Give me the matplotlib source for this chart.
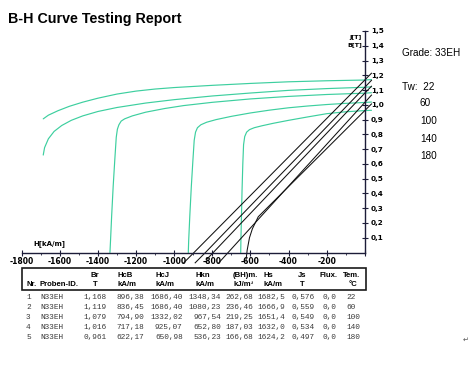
#B-H curve testing report, 33EH grade, five temperatures

import matplotlib
matplotlib.use('Agg')
import matplotlib.pyplot as plt
from matplotlib.patches import Rectangle
from matplotlib.ticker import FixedLocator, FuncFormatter

W, H_PX = 472, 374

temps = [22, 60, 100, 140, 180]

#J curves (intrinsic), H in kA/m, J in T
j_h = [
	[35, 0, -200, -400, -600, -800, -1000, -1100, -1200, -1300, -1400, -1480, -1550, -1610, -1660, -1687],
	[35, 0, -200, -400, -600, -800, -1000, -1150, -1300, -1400, -1480, -1540, -1590, -1630, -1660, -1680, -1687],
	[35, 0, -200, -400, -600, -800, -950, -1050, -1150, -1220, -1260, -1278, -1290, -1298, -1304, -1312, -1320, -1328, -1334, -1337],
	[35, 0, -100, -200, -300, -400, -500, -600, -700, -780, -830, -860, -878, -888, -895, -902, -910, -918, -924, -926],
	[35, 0, -100, -200, -300, -400, -480, -540, -580, -605, -620, -630, -636, -640, -644, -647, -650, -651],
]
j_val = [
	[1.171, 1.168, 1.163, 1.156, 1.145, 1.132, 1.117, 1.107, 1.093, 1.073, 1.045, 1.018, 0.99, 0.96, 0.93, 0.905],
	[1.122, 1.119, 1.110, 1.098, 1.080, 1.060, 1.035, 1.012, 0.982, 0.955, 0.925, 0.895, 0.86, 0.82, 0.77, 0.71, 0.66],
	[1.082, 1.079, 1.070, 1.057, 1.040, 1.017, 0.995, 0.975, 0.950, 0.925, 0.905, 0.89, 0.865, 0.835, 0.78, 0.62, 0.45, 0.25, 0.08, 0.0],
	[1.019, 1.016, 1.010, 1.002, 0.992, 0.980, 0.964, 0.945, 0.922, 0.90, 0.882, 0.865, 0.845, 0.815, 0.76, 0.62, 0.45, 0.25, 0.08, 0.0],
	[0.963, 0.961, 0.953, 0.940, 0.918, 0.895, 0.875, 0.858, 0.845, 0.832, 0.815, 0.785, 0.73, 0.60, 0.42, 0.25, 0.08, 0.0],
]

#B curves (normal)
b_h = [
	[35, 0, -300, -600, -896, -950],
	[35, 0, -300, -600, -836, -890],
	[35, 0, -300, -600, -795, -832],
	[35, 0, -300, -600, -717, -766],
	[35, 0, -300, -500, -559, -590, -605, -617, -623],
]
b_val = [
	[1.214, 1.168, 0.777, 0.386, 0.0, -0.07],
	[1.166, 1.119, 0.717, 0.316, 0.0, -0.07],
	[1.126, 1.079, 0.672, 0.265, 0.0, -0.05],
	[1.066, 1.016, 0.591, 0.166, 0.0, -0.07],
	[1.006, 0.961, 0.575, 0.318, 0.242, 0.16, 0.10, 0.017, -0.05],
]

#table values
nr = [1, 2, 3, 4, 5]
proben_id = ['N33EH'] * 5
br = [1.168, 1.119, 1.079, 1.016, 0.961]
hcb = [896.38, 836.45, 794.90, 717.18, 622.17]
hcj = [1686.40, 1686.40, 1332.02, 925.07, 650.98]
hkn = [1348.34, 1080.23, 967.54, 652.80, 536.23]
bhmax = [262.68, 236.46, 219.25, 187.03, 166.68]
hs = [1682.5, 1666.9, 1651.4, 1632.0, 1624.2]
js = [0.576, 0.559, 0.549, 0.534, 0.497]
flux = ['0,0'] * 5

x_ticks = [-1800, -1600, -1400, -1200, -1000, -800, -600, -400, -200]
y_ticks = [0.1, 0.2, 0.3, 0.4, 0.5, 0.6, 0.7, 0.8, 0.9, 1.0, 1.1, 1.2, 1.3, 1.4, 1.5]

J_COLOR = '#3dcf9f'
AX_COLOR = '#1c1c38'

def fx(px):
	return px / W

def fy(py):
	return 1 - py / H_PX

def comma(v, dec):
	return '{:.{}f}'.format(v, dec).replace('.', ',')

fig = plt.figure(figsize=(W / 100, H_PX / 100), dpi=100)
fig.patch.set_facecolor('white')

#axes placed so that H=-1800 -> px 21.7, H=0 -> px 364.8, B=0 -> py 252.5, B=1.5 -> py 31
px_per_h = (364.8 - 21.7) / 1800
px_per_t = (252.5 - 31) / 1.5
x_lo, x_hi = -1850, 90
y_lo, y_hi = -0.12, 1.6
left_px = 364.8 + x_lo * px_per_h
right_px = 364.8 + x_hi * px_per_h
top_px = 252.5 - y_hi * px_per_t
bot_px = 252.5 - y_lo * px_per_t
ax = fig.add_axes([fx(left_px), fy(bot_px), (right_px - left_px) / W, (bot_px - top_px) / H_PX])
ax.set_xlim(x_lo, x_hi)
ax.set_ylim(y_lo, y_hi)
ax.patch.set_alpha(0)

for i in range(len(temps)):
	ax.plot(j_h[i], j_val[i], color=J_COLOR, lw=0.85, solid_capstyle='round')
for i in range(len(temps)):
	ax.plot(b_h[i], b_val[i], color='#111111', lw=0.75)

#spines: x axis along B=0, y axis along H=0
ax.spines['top'].set_visible(False)
ax.spines['left'].set_visible(False)
ax.spines['bottom'].set_position(('data', 0))
ax.spines['right'].set_position(('data', 0))
ax.spines['bottom'].set_bounds(-1800, 0)
ax.spines['right'].set_bounds(0, 1.5)
for s in ['bottom', 'right']:
	ax.spines[s].set_color(AX_COLOR)
	ax.spines[s].set_linewidth(1.0)

ax.yaxis.tick_right()
ax.yaxis.set_major_locator(FixedLocator(y_ticks))
ax.yaxis.set_major_formatter(FuncFormatter(lambda v, p: comma(v, 1)))
ax.tick_params(axis='y', direction='inout', length=5, width=0.8, color=AX_COLOR,
	labelsize=5.2, pad=2)
ax.xaxis.set_major_locator(FixedLocator(x_ticks + [0]))
ax.xaxis.set_minor_locator(FixedLocator([-1700, -1500, -1300, -1100, -900, -700, -500, -300, -100]))
ax.xaxis.set_major_formatter(FuncFormatter(lambda v, p: '{:d}'.format(int(v)) if v != 0 else ''))
ax.tick_params(axis='x', which='major', direction='inout', length=5, width=0.8, color=AX_COLOR,
	labelsize=5.5, pad=1)
ax.tick_params(axis='x', which='minor', direction='out', length=1.5, width=0.6, color=AX_COLOR)
for lab in ax.get_xticklabels() + ax.get_yticklabels():
	lab.set_fontweight('bold')

#axis names
fig.text(fx(362), fy(37.5), 'J[T]', fontsize=4.6, fontweight='bold', ha='right', va='center')
fig.text(fx(362), fy(45), 'B[T]', fontsize=4.6, fontweight='bold', ha='right', va='center')
fig.text(fx(33), fy(244), 'H[kA/m]', fontsize=5, fontweight='bold', ha='left', va='center')

#title and notes
fig.text(fx(8), fy(19), 'B-H Curve Testing Report', fontsize=10.3, fontweight='bold',
	family='Liberation Sans', ha='left', va='center')
fig.text(fx(401.5), fy(53.5), 'Grade: 33EH', fontsize=7.2, family='Liberation Sans', ha='left', va='center')
fig.text(fx(401.5), fy(87), 'Tw:  {}'.format(temps[0]), fontsize=7.2, family='Liberation Sans',
	ha='left', va='center')
for k, t in enumerate(temps[1:]):
	fig.text(fx(420), fy(103.5 + 17.5 * k), str(t), fontsize=7.2, family='Liberation Sans',
		ha='left', va='center')

#table header box
fig.add_artist(Rectangle((fx(21.7), fy(290)), (365.7 - 21.7) / W, (290 - 267.5) / H_PX,
	transform=fig.transFigure, fill=False, ec='#1a1a1a', lw=1.2))

hdr = dict(fontsize=5.6, fontweight='bold', family='Liberation Sans', va='center')
r1, r2 = 275.7, 284.3
fig.text(fx(26.5), fy(r2), 'Nr.', ha='left', **hdr)
fig.text(fx(39), fy(r2), 'Proben-ID.', ha='left', **hdr)
fig.text(fx(95), fy(r1), 'Br', ha='center', **hdr)
fig.text(fx(95), fy(r2), 'T', ha='center', **hdr)
fig.text(fx(118), fy(r1), 'HcB', ha='left', **hdr)
fig.text(fx(118), fy(r2), 'kA/m', ha='left', **hdr)
fig.text(fx(155), fy(r1), 'HcJ', ha='left', **hdr)
fig.text(fx(156), fy(r2), 'kA/m', ha='left', **hdr)
fig.text(fx(195), fy(r1), 'Hkn', ha='left', **hdr)
fig.text(fx(196), fy(r2), 'kA/m', ha='left', **hdr)
fig.text(fx(233), fy(r1), '(BH)m.', ha='left', **hdr)
fig.text(fx(233), fy(r2), 'kJ/m\u00b3', ha='left', **hdr)
fig.text(fx(264), fy(r1), 'Hs', ha='left', **hdr)
fig.text(fx(264), fy(r2), 'kA/m', ha='left', **hdr)
fig.text(fx(302), fy(r1), 'Js', ha='center', **hdr)
fig.text(fx(302), fy(r2), 'T', ha='center', **hdr)
fig.text(fx(319), fy(r1), 'Flux.', ha='left', **hdr)
fig.text(fx(342.5), fy(r1), 'Tem.', ha='left', **hdr)
fig.text(fx(349), fy(r2), '\u00b0C', ha='left', **hdr)

#table rows
cell = dict(fontsize=5.6, family='Liberation Mono', color='#3a3a3a', va='center')
for i in range(len(nr)):
	y = fy(297.3 + 9.95 * i)
	fig.text(fx(28.3), y, str(nr[i]), ha='center', **cell)
	fig.text(fx(40), y, proben_id[i], ha='left', **cell)
	fig.text(fx(106.7), y, comma(br[i], 3), ha='right', **cell)
	fig.text(fx(144), y, comma(hcb[i], 2), ha='right', **cell)
	fig.text(fx(182.7), y, comma(hcj[i], 2), ha='right', **cell)
	fig.text(fx(221), y, comma(hkn[i], 2), ha='right', **cell)
	fig.text(fx(253.3), y, comma(bhmax[i], 2), ha='right', **cell)
	fig.text(fx(285), y, comma(hs[i], 1), ha='right', **cell)
	fig.text(fx(315), y, comma(js[i], 3), ha='right', **cell)
	fig.text(fx(336.7), y, flux[i], ha='right', **cell)
	fig.text(fx(346.5), y, str(temps[i]), ha='left', **cell)

fig.text(fx(466), fy(340), '\u21b5', fontsize=5, color='#555555', ha='center', va='center')

plt.savefig('out.png', dpi=100)
plt.close()
